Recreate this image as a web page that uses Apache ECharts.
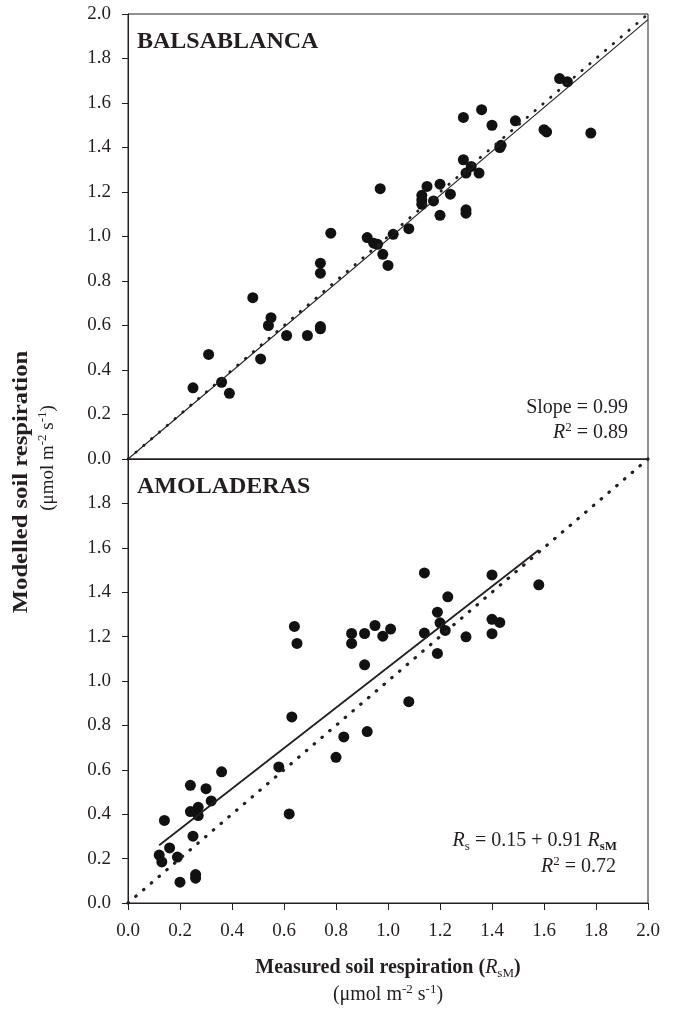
<!DOCTYPE html>
<html>
<head>
<meta charset="utf-8">
<title>Modelled vs measured soil respiration</title>
<script src="https://cdn.jsdelivr.net/npm/echarts@6/dist/echarts.min.js"></script>
<style>
html,body{margin:0;padding:0;background:#fff;}
#chart{width:676px;height:1017px;}
</style>
</head>
<body>
<div id="chart"></div>
<script>
// Balsablanca: measured (x) / modelled (y)
var balsaX = [1.66, 1.69, 1.36, 1.29, 1.40, 1.49, 1.60, 1.61, 1.78, 1.43, 1.435, 1.29, 1.32, 1.30, 1.35, 1.15,
	1.20, 1.13, 1.13, 1.13, 1.175, 1.24, 1.20, 1.30, 1.30, 0.97, 0.78, 0.92, 0.945, 0.96, 1.02, 1.08,
	0.98, 1.00, 0.74, 0.74, 0.48, 0.55, 0.54, 0.61, 0.69, 0.74, 0.74, 0.51, 0.31, 0.25, 0.36, 0.39];
var balsaY = [1.71, 1.695, 1.57, 1.535, 1.50, 1.52, 1.48, 1.47, 1.465, 1.40, 1.41, 1.345, 1.315, 1.285, 1.285, 1.225,
	1.235, 1.185, 1.165, 1.145, 1.16, 1.19, 1.095, 1.12, 1.105, 1.215, 1.015, 0.995, 0.97, 0.965, 1.01, 1.035,
	0.92, 0.87, 0.88, 0.835, 0.725, 0.635, 0.60, 0.555, 0.555, 0.595, 0.585, 0.45, 0.47, 0.32, 0.345, 0.295];

// Amoladeras: measured (x) / modelled (y)
var amolaX = [1.14, 1.40, 1.58, 1.23, 1.19, 1.20, 1.22, 1.40, 1.43, 1.40, 1.30, 1.14, 1.19, 0.64, 0.65, 0.86,
	0.86, 0.91, 0.95, 0.98, 1.01, 0.91, 1.08, 0.63, 0.83, 0.92, 0.80, 0.58, 0.36, 0.24, 0.30, 0.32,
	0.24, 0.27, 0.27, 0.14, 0.25, 0.62, 0.16, 0.12, 0.13, 0.19, 0.20, 0.26, 0.26];
var amolaY = [1.487, 1.478, 1.433, 1.379, 1.31, 1.262, 1.228, 1.278, 1.264, 1.213, 1.199, 1.216, 1.124, 1.246, 1.169, 1.214,
	1.169, 1.214, 1.25, 1.202, 1.234, 1.073, 0.907, 0.838, 0.748, 0.772, 0.656, 0.613, 0.591, 0.53, 0.515, 0.46,
	0.412, 0.431, 0.394, 0.372, 0.301, 0.401, 0.248, 0.216, 0.185, 0.207, 0.094, 0.128, 0.112];

// regression lines (end points) and the 1:1 line
var balsaFitX = [0, 2.0];
var balsaFitY = [0, 1.975];
var amolaFitX = [0.12, 1.58];
var amolaFitY = [0.26, 1.59];
var oneToOneX = [0, 2.0];
var oneToOneY = [0, 2.0];

var FONT = '"Liberation Serif", "Times New Roman", serif';
var INK = '#231f20';

function toPairs(xs, ys) {
	var out = [];
	for (var i = 0; i < xs.length; i++) {
		out.push([xs[i], ys[i]]);
	}
	return out;
}

function fmt(v) {
	return v.toFixed(1);
}

var axisLine = {show: true, lineStyle: {color: INK, width: 1}};
var tickLabel = {fontFamily: FONT, fontSize: 19, color: INK, formatter: fmt};

function yAxisFor(idx, hideMax) {
	return {
		type: 'value', gridIndex: idx, min: 0, max: 2, interval: 0.2,
		axisLine: axisLine,
		axisTick: {show: true, inside: false, length: 6, lineStyle: {color: INK}},
		axisLabel: Object.assign({margin: 17, showMaxLabel: !hideMax, showMinLabel: true}, tickLabel),
		splitLine: {show: false}
	};
}

// rich styles for sub / superscripts
function richSet(size, bold) {
	var w = bold ? 'bold' : 'normal';
	var small = Math.round(size * 0.66);
	return {
		t: {fontFamily: FONT, fontSize: size, fontWeight: w, color: INK, lineHeight: size + 4, verticalAlign: 'middle'},
		i: {fontFamily: FONT, fontSize: size, fontStyle: 'italic', color: INK, lineHeight: size + 4, verticalAlign: 'middle'},
		sup: {fontFamily: FONT, fontSize: small, color: INK, lineHeight: small, verticalAlign: 'top'},
		sub: {fontFamily: FONT, fontSize: small, color: INK, lineHeight: small, verticalAlign: 'bottom'},
		subb: {fontFamily: FONT, fontSize: small, fontWeight: 'bold', color: INK, lineHeight: small, verticalAlign: 'bottom'}
	};
}

function label(txt, x, y, size, opt) {
	opt = opt || {};
	return {
		type: 'text', x: x, y: y,
		rotation: opt.rotation || 0,
		scaleX: opt.scaleX || 1,
		style: {
			text: txt,
			fill: INK,
			fontFamily: FONT,
			fontSize: size,
			fontWeight: opt.bold ? 'bold' : 'normal',
			textAlign: opt.align || 'center',
			textVerticalAlign: 'middle',
			rich: richSet(size, opt.bold)
		}
	};
}

var dotStyle = {color: '#111', opacity: 1};

var chart = echarts.init(document.getElementById('chart'));

chart.setOption({
	animation: false,
	backgroundColor: '#fff',
	grid: [
		{left: 128, top: 14, width: 520, height: 445, show: true, borderColor: INK, borderWidth: 1, outerBoundsMode: 'none'},
		{left: 128, top: 459, width: 520, height: 444, show: true, borderColor: INK, borderWidth: 1, outerBoundsMode: 'none'}
	],
	xAxis: [
		{type: 'value', gridIndex: 0, min: 0, max: 2, interval: 0.2, axisLine: axisLine,
			axisTick: {show: false}, axisLabel: {show: false}, splitLine: {show: false}},
		{type: 'value', gridIndex: 1, min: 0, max: 2, interval: 0.2, axisLine: axisLine,
			axisTick: {show: true, inside: false, length: 7, lineStyle: {color: INK}},
			axisLabel: Object.assign({margin: 19, showMaxLabel: true, showMinLabel: true}, tickLabel),
			splitLine: {show: false}}
	],
	yAxis: [yAxisFor(0, false), yAxisFor(1, true)],
	series: [
		{type: 'line', xAxisIndex: 0, yAxisIndex: 0, data: toPairs(oneToOneX, oneToOneY), symbol: 'none', clip: false,
			lineStyle: {color: INK, width: 2.8, type: [0.5, 9.8], cap: 'round'}},
		{type: 'line', xAxisIndex: 0, yAxisIndex: 0, data: toPairs(balsaFitX, balsaFitY), symbol: 'none',
			lineStyle: {color: INK, width: 1.1}},
		{type: 'scatter', xAxisIndex: 0, yAxisIndex: 0, data: toPairs(balsaX, balsaY), symbol: 'circle', symbolSize: 11,
			itemStyle: dotStyle},
		{type: 'line', xAxisIndex: 1, yAxisIndex: 1, data: toPairs(oneToOneX, oneToOneY), symbol: 'none', clip: false,
			lineStyle: {color: INK, width: 3.2, type: [0.5, 9.7], cap: 'round'}},
		{type: 'line', xAxisIndex: 1, yAxisIndex: 1, data: toPairs(amolaFitX, amolaFitY), symbol: 'none',
			lineStyle: {color: INK, width: 1.8}},
		{type: 'scatter', xAxisIndex: 1, yAxisIndex: 1, data: toPairs(amolaX, amolaY), symbol: 'circle', symbolSize: 11,
			itemStyle: dotStyle}
	],
	graphic: [
		label('BALSABLANCA', 137, 42, 24, {bold: true, align: 'left'}),
		label('AMOLADERAS', 137, 487, 24, {bold: true, align: 'left'}),
		label('{t|Slope = 0.99}', 628, 408, 20, {align: 'right'}),
		label('{i|R}{sup|2}{t| = 0.89}', 628, 433, 20, {align: 'right'}),
		label('{i|R}{sub|s}{t| = 0.15 + 0.91 }{i|R}{subb|sM}', 617, 841, 20, {align: 'right'}),
		label('{i|R}{sup|2}{t| = 0.72}', 616, 867, 20, {align: 'right'}),
		// axis titles
		label('{t|Measured soil respiration (}{i|R}{sub|sM}{t|)}', 388, 968, 20, {bold: true}),
		label('{t|(\u03bcmol m}{sup|-2}{t| s}{sup|-1}{t|)}', 388, 995, 20),
		label('{t|Modelled soil respiration}', 21, 482, 22, {bold: true, rotation: Math.PI / 2, scaleX: 1.12}),
		label('{t|(\u03bcmol m}{sup|-2}{t| s}{sup|-1}{t|)}', 48, 458, 19, {rotation: Math.PI / 2})
	]
});
</script>
</body>
</html>
